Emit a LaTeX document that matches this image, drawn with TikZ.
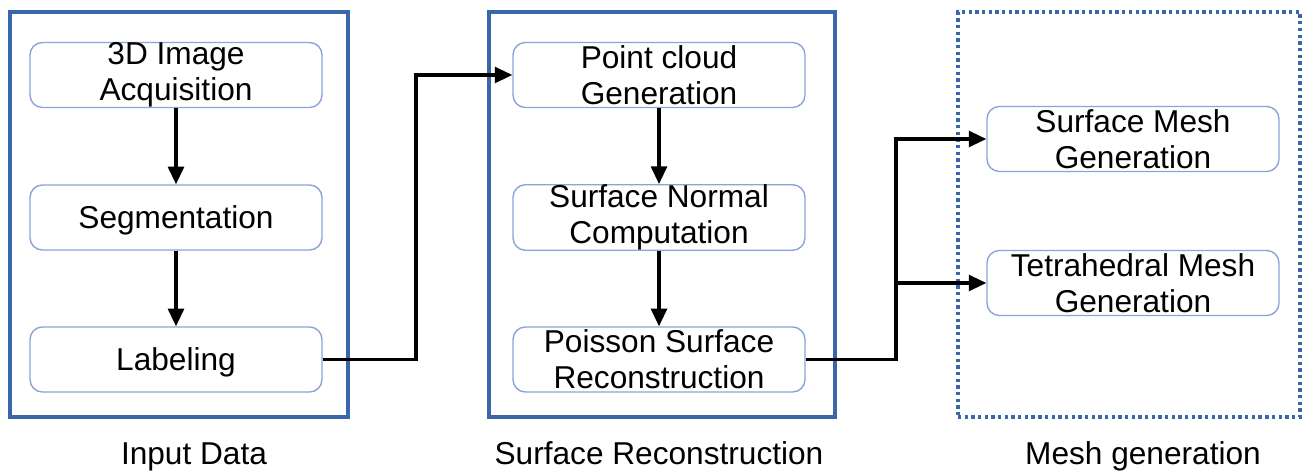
\documentclass[tikz,border=0pt]{standalone}
\usepackage{fontspec}
\setmainfont{Liberation Sans}
\usetikzlibrary{arrows.meta}

\definecolor{frameblue}{RGB}{58,102,170}
\definecolor{stepblue}{RGB}{135,165,215}

\begin{document}
\begin{tikzpicture}
  [x=0.02cm,y=-0.02cm,
   every node/.style={font=\fontsize{18}{20.5}\selectfont},
   stage/.style={draw=stepblue,line width=0.8pt,rounded corners=7pt,
     minimum width=5.84cm,minimum height=1.3cm,inner sep=0pt,align=center,
     execute at begin node=\rule{0pt}{16.5pt}},
   group/.style={draw=frameblue,line width=1.9pt,inner sep=0pt,minimum height=8.1cm},
   flow/.style={-{Triangle[length=10pt,width=9pt]},line width=1.8pt}]
  \useasboundingbox (0,0) rectangle (1304,472);

  % the three groups
  \node[group,minimum width=6.76cm] (gin) at (179,214.5) {};
  \node[group,minimum width=6.92cm] (grec) at (662,214.5) {};
  \node[group,minimum width=6.84cm,dash pattern=on 1.9pt off 1.9pt] (gmesh) at (1129,214.5) {};

  % steps
  \node[stage] (acq) at (176,75)    {3D Image\\Acquisition};
  \node[stage] (seg) at (176,217.5) {Segmentation};
  \node[stage] (lab) at (176,359.5) {Labeling};
  \node[stage] (pcg) at (659,75)    {Point cloud\\Generation};
  \node[stage] (snc) at (659,217.5) {Surface Normal\\Computation};
  \node[stage] (psr) at (659,359.5) {Poisson Surface\\Reconstruction};
  \node[stage] (smg) at (1133,139)  {Surface Mesh\\Generation};
  \node[stage] (tmg) at (1133,283)  {Tetrahedral Mesh\\Generation};

  % captions
  \node[anchor=base] (tin) at (194,464)  {Input Data};
  \node[anchor=base] (trec) at (659,464) {Surface Reconstruction};
  \node[anchor=base] (tmesh) at (1143,464) {Mesh generation};

  \foreach \from/\to in {acq/seg,seg/lab,pcg/snc,snc/psr}
    \draw[flow] (\from) -- (\to);

  \coordinate (j1) at (416,75);
  \coordinate (j2) at (896,139);
  \draw[flow] (lab.east) -| (j1) -- (pcg.west);
  \draw[flow] (psr.east) -| (j2) -- (smg.west);
  \draw[flow] (j2 |- tmg.west) -- (tmg.west);

\end{tikzpicture}
\end{document}
